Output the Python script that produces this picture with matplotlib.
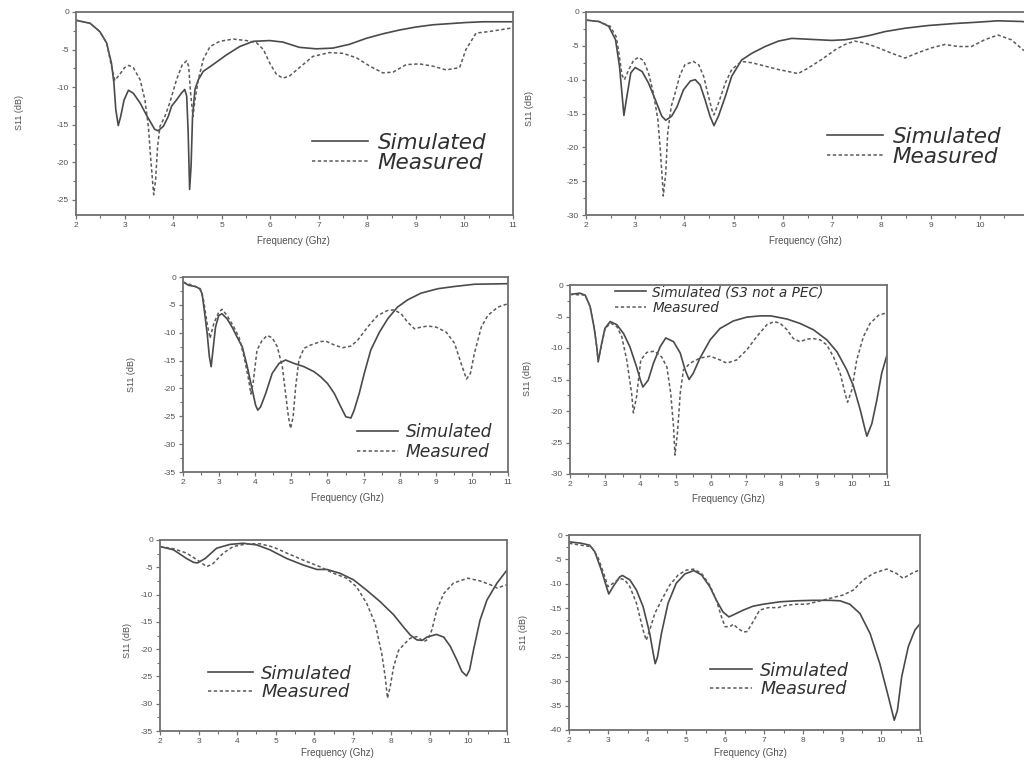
import numpy as np
import matplotlib
matplotlib.use("Agg")
import matplotlib.pyplot as plt
from matplotlib.ticker import MultipleLocator

plt.rcParams["font.family"] = ["Liberation Sans", "DejaVu Sans"]
plt.rcParams["axes.unicode_minus"] = False

W, H = 1024, 762

# ---------------- data (frequency in GHz, S11 in dB) ----------------
# (a)
a_sim_f = [2.0, 2.29, 2.49, 2.63, 2.73, 2.78, 2.82, 2.87, 2.92, 2.99, 3.08, 3.18, 3.32, 3.45, 3.62, 3.69,
           3.8, 3.9, 3.97, 4.07, 4.17, 4.24, 4.28, 4.31, 4.34, 4.37, 4.4, 4.45, 4.52, 4.62, 4.82, 5.1,
           5.37, 5.65, 5.99, 6.26, 6.6, 6.95, 7.29, 7.63, 7.98, 8.32, 8.66, 9.0, 9.35, 9.69, 10.03, 10.38, 11.0]
a_sim_s = [-1.1, -1.5, -2.6, -4.1, -6.8, -9.4, -13.0, -15.1, -13.9, -11.7, -10.4, -10.8, -12.1, -13.7, -15.6, -15.8,
           -15.2, -13.9, -12.5, -11.7, -10.8, -10.3, -11.2, -16.0, -23.6, -20.5, -13.9, -10.3, -9.0, -7.9, -7.0, -5.7,
           -4.6, -3.9, -3.8, -4.0, -4.7, -4.9, -4.8, -4.3, -3.5, -2.9, -2.4, -2.0, -1.7, -1.55, -1.4, -1.3, -1.3]
a_mea_f = [2.0, 2.29, 2.49, 2.63, 2.73, 2.8, 2.9, 3.0, 3.09, 3.18, 3.32, 3.42, 3.49, 3.54, 3.6, 3.64, 3.68,
           3.73, 3.83, 3.93, 4.07, 4.19, 4.28, 4.32, 4.36, 4.41, 4.45, 4.52, 4.62, 4.76, 4.96, 5.24, 5.51,
           5.72, 5.86, 5.99, 6.13, 6.26, 6.4, 6.6, 6.88, 7.22, 7.5, 7.78, 8.05, 8.32, 8.53, 8.8, 9.07, 9.35,
           9.62, 9.9, 10.03, 10.24, 10.51, 11.0]
a_mea_s = [-1.1, -1.5, -2.6, -4.1, -7.2, -9.1, -8.3, -7.4, -7.1, -7.4, -9.0, -11.7, -15.2, -19.6, -24.3, -22.3, -17.9,
           -15.2, -13.9, -12.1, -9.0, -7.0, -6.5, -7.2, -10.8, -13.9, -11.7, -9.0, -6.3, -4.6, -3.9, -3.6, -3.8,
           -4.1, -5.0, -6.8, -8.3, -8.8, -8.5, -7.4, -5.9, -5.4, -5.5, -6.1, -7.2, -8.1, -8.0, -7.0, -6.9, -7.2,
           -7.7, -7.4, -5.0, -2.8, -2.6, -2.1]

# (b)
b_sim_f = [2.0, 2.26, 2.46, 2.6, 2.68, 2.73, 2.77, 2.83, 2.91, 3.0, 3.14, 3.27, 3.41, 3.54, 3.62, 3.74, 3.85,
           3.98, 4.12, 4.22, 4.32, 4.42, 4.52, 4.6, 4.69, 4.83, 4.96, 5.16, 5.37, 5.64, 5.91, 6.18, 6.45,
           6.72, 6.99, 7.26, 7.53, 7.8, 8.07, 8.48, 8.95, 9.49, 9.97, 10.37, 10.84, 11.0]
b_sim_s = [-1.2, -1.4, -2.1, -4.1, -8.0, -12.0, -15.3, -12.5, -9.0, -8.2, -8.8, -10.5, -13.0, -15.4, -16.0, -15.4, -14.0,
           -11.5, -10.2, -10.0, -10.8, -13.0, -15.4, -16.8, -15.4, -12.5, -9.5, -7.1, -6.1, -5.1, -4.3, -3.9, -4.0,
           -4.1, -4.2, -4.1, -3.8, -3.4, -2.9, -2.4, -2.0, -1.7, -1.5, -1.3, -1.4, -1.5]
b_mea_f = [2.0, 2.26, 2.49, 2.61, 2.66, 2.73, 2.78, 2.87, 2.97, 3.07, 3.17, 3.27, 3.37, 3.46, 3.51, 3.56, 3.57,
           3.62, 3.66, 3.73, 3.81, 3.91, 4.01, 4.18, 4.29, 4.39, 4.49, 4.56, 4.6, 4.69, 4.83, 4.96, 5.16,
           5.37, 5.64, 5.91, 6.11, 6.31, 6.51, 6.79, 7.06, 7.26, 7.46, 7.67, 7.94, 8.21, 8.48, 8.75, 9.02,
           9.29, 9.56, 9.83, 10.1, 10.37, 10.64, 10.88, 11.0]
b_mea_s = [-1.2, -1.4, -2.1, -3.6, -5.6, -9.3, -10.0, -8.5, -7.1, -6.7, -7.2, -9.0, -12.0, -15.9, -20.4, -25.8, -27.2,
           -23.8, -17.9, -14.0, -12.0, -9.3, -7.8, -7.3, -7.8, -9.5, -12.5, -14.5, -15.2, -13.5, -10.5, -8.5, -7.3,
           -7.5, -8.0, -8.5, -8.8, -9.1, -8.3, -7.0, -5.6, -4.8, -4.3, -4.6, -5.3, -6.1, -6.8, -6.0, -5.3,
           -4.8, -5.1, -5.1, -4.1, -3.4, -4.1, -5.6, -6.0]

# (c)
c_sim_f = [2.0, 2.16, 2.34, 2.46, 2.53, 2.59, 2.67, 2.73, 2.78, 2.82, 2.9, 2.99, 3.08, 3.22, 3.36, 3.5, 3.64,
           3.78, 3.92, 4.01, 4.07, 4.15, 4.29, 4.47, 4.66, 4.84, 5.07, 5.35, 5.63, 5.81, 6.0, 6.19, 6.37,
           6.51, 6.65, 6.74, 6.88, 7.02, 7.2, 7.44, 7.67, 7.94, 8.22, 8.59, 9.06, 9.52, 10.07, 11.0]
c_sim_s = [-0.9, -1.5, -1.7, -2.1, -3.0, -6.0, -10.2, -14.3, -16.1, -13.7, -9.0, -6.9, -6.6, -7.5, -9.0, -10.8, -12.5,
           -16.1, -20.3, -23.0, -23.9, -23.3, -20.9, -17.3, -15.5, -14.9, -15.5, -16.1, -17.0, -17.9, -19.1, -20.9, -23.3,
           -25.1, -25.3, -23.9, -20.9, -17.3, -13.1, -9.9, -7.5, -5.4, -4.1, -2.9, -2.1, -1.7, -1.3, -1.2]
c_mea_f = [2.0, 2.34, 2.48, 2.57, 2.67, 2.75, 2.85, 2.99, 3.08, 3.22, 3.41, 3.55, 3.69, 3.82, 3.88, 3.94, 4.05,
           4.19, 4.33, 4.47, 4.61, 4.75, 4.84, 4.92, 4.98, 5.05, 5.12, 5.21, 5.35, 5.54, 5.81, 5.95, 6.19,
           6.42, 6.65, 6.83, 7.11, 7.39, 7.67, 7.85, 8.04, 8.22, 8.41, 8.59, 8.78, 9.01, 9.29, 9.52, 9.7,
           9.85, 9.96, 10.07, 10.26, 10.44, 10.72, 11.0]
c_mea_s = [-0.9, -1.7, -2.1, -4.2, -8.4, -11.0, -8.4, -6.3, -5.8, -6.9, -9.0, -10.8, -14.3, -18.5, -21.0, -19.1, -13.1,
           -11.4, -10.5, -10.9, -12.5, -16.1, -20.9, -25.1, -27.2, -25.1, -19.7, -14.9, -12.8, -12.2, -11.6, -11.5, -12.2,
           -12.7, -12.4, -11.4, -9.0, -6.9, -6.0, -5.9, -6.6, -8.1, -9.3, -9.0, -8.8, -9.0, -9.9, -11.9, -15.5,
           -18.3, -17.3, -13.7, -9.0, -6.9, -5.4, -4.8]

# (d)
d_sim_f = [2.0, 2.28, 2.43, 2.57, 2.68, 2.76, 2.8, 2.88, 2.99, 3.14, 3.33, 3.52, 3.7, 3.89, 4.0, 4.07, 4.22,
           4.37, 4.56, 4.72, 4.94, 5.13, 5.27, 5.38, 5.5, 5.69, 5.98, 6.26, 6.64, 7.02, 7.4, 7.7, 8.16,
           8.53, 8.91, 9.29, 9.58, 9.86, 10.05, 10.24, 10.38, 10.43, 10.57, 10.71, 10.85, 11.0]
d_sim_s = [-1.5, -1.3, -1.6, -3.4, -6.6, -9.8, -12.2, -9.8, -6.9, -5.8, -6.3, -7.7, -9.8, -13.0, -15.1, -16.2, -15.1,
           -12.4, -9.8, -8.4, -9.0, -10.8, -13.5, -15.0, -14.0, -11.6, -8.7, -6.9, -5.7, -5.1, -4.9, -4.9, -5.4,
           -6.1, -7.1, -8.7, -10.6, -13.5, -16.1, -19.8, -23.0, -24.0, -22.0, -18.3, -14.0, -11.1]
d_mea_f = [2.0, 2.43, 2.57, 2.71, 2.8, 2.87, 2.99, 3.14, 3.33, 3.47, 3.61, 3.75, 3.8, 3.89, 4.01, 4.18, 4.4,
           4.6, 4.75, 4.86, 4.94, 4.98, 5.05, 5.13, 5.22, 5.41, 5.69, 5.98, 6.26, 6.45, 6.73, 7.02, 7.3,
           7.59, 7.8, 7.97, 8.16, 8.34, 8.53, 8.72, 8.91, 9.1, 9.29, 9.48, 9.67, 9.81, 9.88, 10.0, 10.14,
           10.33, 10.52, 10.76, 11.0]
d_mea_s = [-1.5, -1.6, -3.4, -7.6, -11.9, -10.3, -7.1, -6.0, -6.6, -8.2, -11.9, -17.2, -20.3, -17.7, -11.9, -10.7, -10.5,
           -11.4, -13.0, -17.2, -22.5, -27.0, -23.5, -17.2, -13.5, -12.4, -11.6, -11.3, -11.9, -12.4, -11.9, -10.3, -8.2,
           -6.3, -5.8, -6.1, -7.1, -8.5, -9.0, -8.6, -8.5, -8.7, -9.5, -11.4, -14.0, -17.2, -18.6, -16.7, -11.9,
           -8.2, -6.1, -4.8, -4.4]

# (e)
e_sim_f = [2.0, 2.35, 2.69, 2.87, 2.97, 3.17, 3.47, 3.82, 4.16, 4.51, 4.85, 5.29, 5.72, 6.07, 6.33, 6.67, 7.02,
           7.36, 7.71, 8.06, 8.31, 8.49, 8.66, 8.8, 8.92, 9.17, 9.36, 9.53, 9.7, 9.83, 9.95, 10.03, 10.13,
           10.3, 10.48, 10.74, 11.0]
e_sim_s = [-1.2, -1.8, -3.4, -4.1, -4.2, -3.4, -1.5, -0.8, -0.6, -0.9, -1.8, -3.4, -4.6, -5.4, -5.4, -6.1, -7.3,
           -9.2, -11.3, -13.7, -15.9, -17.4, -18.3, -18.4, -17.8, -17.3, -17.8, -19.5, -22.0, -24.1, -24.9, -23.8, -20.2,
           -14.7, -11.0, -7.9, -5.5]
e_mea_f = [2.0, 2.35, 2.69, 3.04, 3.21, 3.38, 3.64, 3.9, 4.25, 4.6, 4.94, 5.29, 5.72, 6.15, 6.5, 6.84, 7.1,
           7.36, 7.58, 7.75, 7.84, 7.9, 7.97, 8.06, 8.19, 8.36, 8.49, 8.66, 8.85, 8.95, 9.05, 9.18, 9.36,
           9.61, 9.98, 10.3, 10.57, 10.74, 11.0]
e_mea_s = [-1.2, -1.6, -2.4, -4.0, -4.9, -4.3, -2.4, -1.2, -0.7, -0.7, -1.3, -2.4, -3.7, -4.9, -6.1, -7.0, -8.6,
           -11.6, -15.3, -20.8, -25.0, -29.0, -26.9, -23.2, -20.2, -18.9, -18.0, -17.7, -18.6, -18.2, -16.5, -12.8, -9.8,
           -7.9, -7.0, -7.5, -8.2, -8.8, -8.2]

# (f)
f_sim_f = [2.0, 2.32, 2.53, 2.66, 2.83, 2.96, 3.02, 3.13, 3.3, 3.37, 3.56, 3.73, 3.9, 4.07, 4.16, 4.21, 4.27,
           4.37, 4.54, 4.75, 4.97, 5.2, 5.4, 5.61, 5.78, 5.95, 6.1, 6.21, 6.47, 6.72, 6.98, 7.41, 7.83,
           8.26, 8.69, 8.95, 9.2, 9.46, 9.72, 9.97, 10.19, 10.34, 10.42, 10.53, 10.7, 10.87, 11.0]
f_sim_s = [-1.4, -1.7, -2.1, -3.4, -7.2, -10.6, -12.1, -10.6, -8.6, -8.3, -9.2, -11.3, -14.7, -20.2, -24.3, -26.4, -25.0,
           -20.2, -14.0, -9.9, -8.0, -7.3, -8.2, -10.6, -13.4, -15.8, -16.8, -16.4, -15.4, -14.6, -14.2, -13.7, -13.5,
           -13.4, -13.4, -13.5, -14.2, -16.1, -20.2, -26.4, -33.2, -38.0, -36.0, -29.1, -22.9, -19.5, -18.2]
f_mea_f = [2.0, 2.32, 2.57, 2.74, 2.92, 3.0, 3.13, 3.3, 3.43, 3.56, 3.73, 3.9, 3.98, 4.07, 4.2, 4.37, 4.58,
           4.8, 5.01, 5.2, 5.4, 5.61, 5.78, 5.91, 6.0, 6.13, 6.21, 6.34, 6.47, 6.57, 6.72, 6.89, 7.11,
           7.36, 7.58, 7.83, 8.09, 8.35, 8.69, 9.03, 9.29, 9.55, 9.8, 10.06, 10.15, 10.4, 10.57, 10.78, 11.0]
f_mea_s = [-1.7, -2.1, -2.4, -4.5, -8.6, -10.6, -9.9, -8.9, -9.2, -10.6, -14.0, -19.5, -21.6, -19.5, -16.1, -13.4, -10.3,
           -8.2, -7.2, -7.0, -7.9, -10.3, -13.4, -16.8, -18.8, -18.8, -18.3, -19.2, -19.9, -19.8, -17.8, -15.4, -14.9,
           -14.9, -14.4, -14.2, -14.2, -13.7, -13.0, -12.3, -11.3, -9.2, -7.9, -7.2, -7.0, -7.9, -8.9, -7.9, -7.1]

freq_ticks = list(range(2, 12))
xlabel_text = "Frequency (Ghz)"
ylabel_text = "S11 (dB)"
sim_label = "Simulated"
mea_label = "Measured"
sim_label_d = "Simulated (S3 not a PEC)"

# ---------------- layout (pixel boxes: left, right, top, bottom) ----------------
panels = [
    dict(box=(76, 513, 12, 215), ylim=-27, data=(a_sim_f, a_sim_s, a_mea_f, a_mea_s),
         ylab=(20, 113), xlab=(293, 241), leg=(312, 153), fs=15.5, hl=2.6, lab=sim_label, lsp=0.0),
    dict(box=(586, 1029, 12, 215), ylim=-30, data=(b_sim_f, b_sim_s, b_mea_f, b_mea_s),
         ylab=(530, 108), xlab=(805, 241), leg=(827, 147), fs=15.5, hl=2.6, lab=sim_label, lsp=0.0),
    dict(box=(183, 508, 277, 472), ylim=-35, data=(c_sim_f, c_sim_s, c_mea_f, c_mea_s),
         ylab=(132, 375), xlab=(347, 498), leg=(357, 442), fs=12.3, hl=2.4, lab=sim_label, lsp=0.1),
    dict(box=(570, 887, 285, 474), ylim=-30, data=(d_sim_f, d_sim_s, d_mea_f, d_mea_s),
         ylab=(528, 378), xlab=(728, 499), leg=(615, 300), fs=9.8, hl=2.3, lab=sim_label_d, lsp=0.14),
    dict(box=(160, 507, 540, 731), ylim=-35, data=(e_sim_f, e_sim_s, e_mea_f, e_mea_s),
         ylab=(128, 640), xlab=(337, 753), leg=(208, 683), fs=13.0, hl=2.5, lab=sim_label, lsp=0.05),
    dict(box=(569, 920, 535, 730), ylim=-40, data=(f_sim_f, f_sim_s, f_mea_f, f_mea_s),
         ylab=(523, 633), xlab=(750, 753), leg=(710, 680), fs=12.7, hl=2.4, lab=sim_label, lsp=0.05),
]

INK = "#4a4a4a"
SPINE = "#707070"
TXT = "#505050"

fig = plt.figure(figsize=(W / 100, H / 100), dpi=100)
fig.patch.set_facecolor("white")


def fx(x):
    return x / W


def fy(y):
    return 1 - y / H


for p in panels:
    l, r, t, b = p["box"]
    ax = fig.add_axes([fx(l), fy(b), (r - l) / W, (b - t) / H])
    sf, ss, mf, ms = p["data"]
    ln_s, = ax.plot(sf, ss, color=INK, lw=1.2, solid_joinstyle="round")
    ln_m, = ax.plot(mf, ms, color="#5a5a5a", lw=1.1, linestyle=(0, (2.2, 1.6)))
    ax.set_xlim(2, 11)
    ax.set_ylim(p["ylim"], 0)
    ax.xaxis.set_major_locator(MultipleLocator(1))
    ax.xaxis.set_minor_locator(MultipleLocator(0.5))
    ax.yaxis.set_major_locator(MultipleLocator(5))
    ax.yaxis.set_minor_locator(MultipleLocator(2.5))
    ax.set_xticks(freq_ticks)
    ax.tick_params(which="major", direction="out", length=3, width=0.9, color=SPINE,
                   labelsize=6, labelcolor=TXT, pad=2)
    ax.tick_params(which="minor", direction="out", length=2, width=0.8, color=SPINE)
    for s in ax.spines.values():
        s.set_color(SPINE)
        s.set_linewidth(1.3)
    fig.text(fx(p["ylab"][0]), fy(p["ylab"][1]), ylabel_text, rotation=90, ha="center", va="center",
             fontsize=6.5, color=TXT)
    fig.text(fx(p["xlab"][0]), fy(p["xlab"][1]), xlabel_text, ha="center", va="center",
             fontsize=7, color=TXT)
    leg = ax.legend([ln_s, ln_m], [p["lab"], mea_label], loc="center left",
                    bbox_to_anchor=(fx(p["leg"][0]), fy(p["leg"][1])), bbox_transform=fig.transFigure,
                    frameon=False, borderpad=0, borderaxespad=0, handlelength=p["hl"], handletextpad=0.45,
                    labelspacing=p["lsp"],
                    prop=dict(family="DejaVu Sans", style="oblique", size=p["fs"]))
    for txt in leg.get_texts():
        txt.set_color("#303030")

fig.savefig("out.png", dpi=100, facecolor="white")
